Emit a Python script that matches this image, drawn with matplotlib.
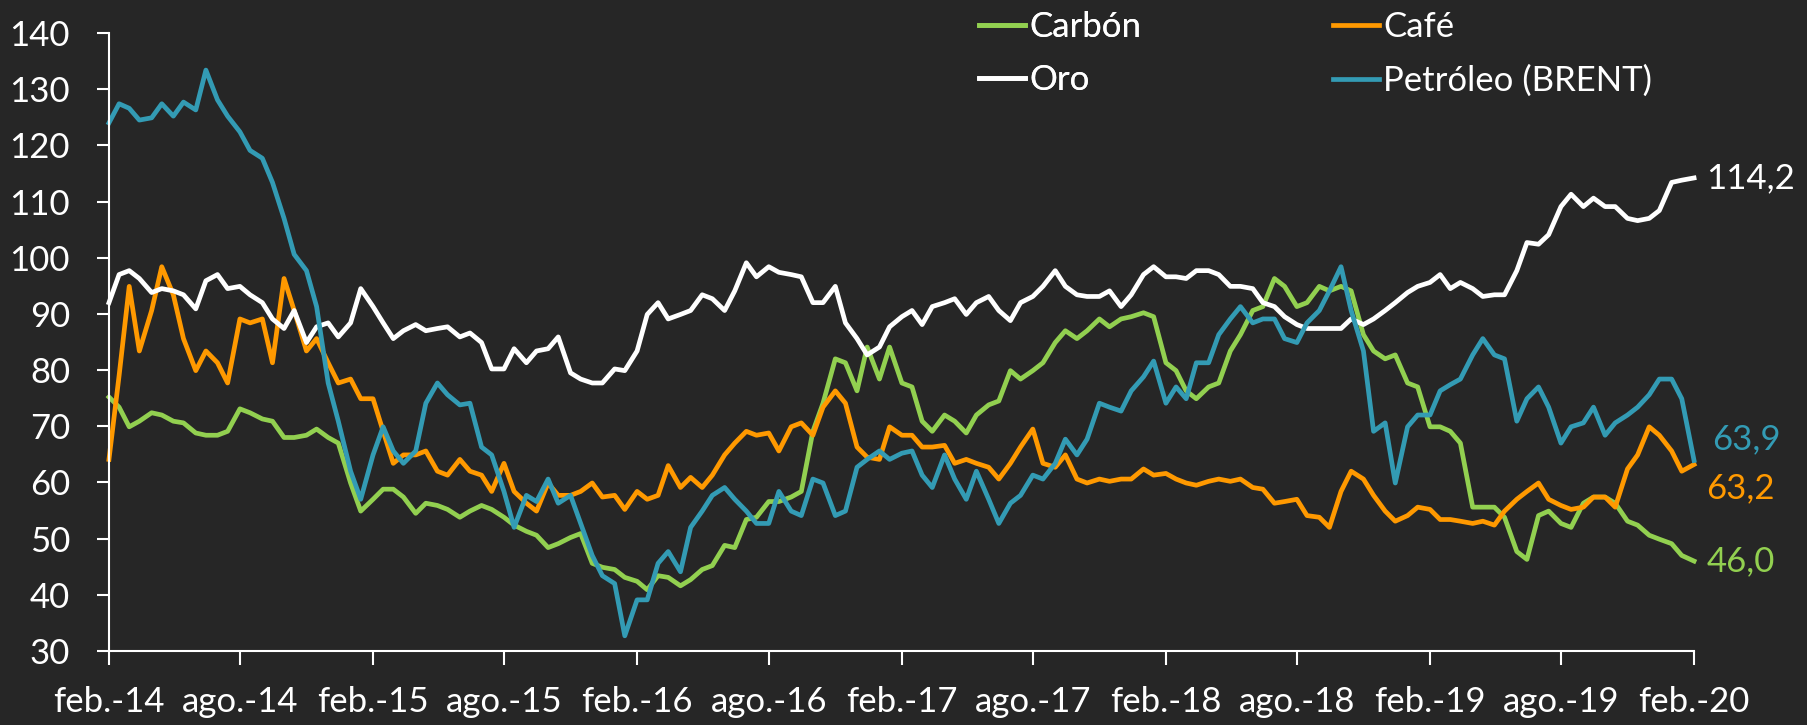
import matplotlib
matplotlib.use("Agg")
import matplotlib.pyplot as plt
import pandas as pd

# Semi-monthly index, feb-2014 .. feb-2020 (base 100 series)
fechas = pd.date_range("2014-02-01", "2020-02-01", freq="SMS")

carbon = [75.2, 73.4, 69.9, 70.9, 72.4, 72.0, 70.9, 70.6, 68.8, 68.4, 68.4, 69.1, 73.1, 72.4, 71.3, 70.9, 68.0, 68.0, 68.4,
          69.5, 68.0, 67.0, 59.9, 54.9, 57.0, 58.8, 58.8, 57.4, 54.5, 56.3, 55.9, 55.2, 53.8, 54.9, 55.9, 55.2, 53.8,
          52.4, 51.3, 50.6, 48.4, 49.1, 50.2, 50.9, 45.6, 44.9, 44.5, 43.1, 42.4, 40.9, 43.4, 43.1, 41.6, 42.7, 44.5,
          45.2, 48.8, 48.4, 53.4, 53.8, 56.6, 56.6, 57.4, 58.4, 69.1, 74.1, 82.0, 81.3, 76.3, 84.1, 78.4, 84.1, 77.7,
          77.0, 70.9, 69.1, 72.0, 70.9, 68.8, 72.0, 73.8, 74.5, 79.9, 78.4, 79.9, 81.3, 84.9, 87.0, 85.6, 87.0, 89.1,
          87.7, 89.1, 89.5, 90.2, 89.5, 81.3,
          79.9, 76.3, 74.9, 77.0, 77.7, 83.4, 86.3, 90.6, 91.3, 96.3, 94.9, 91.3, 92.0, 94.9, 94.1, 94.9, 94.1, 86.3,
          83.4, 82.0, 82.7, 77.7, 77.0, 69.9,
          69.9, 69.1, 67.0, 55.6, 55.6, 55.6, 53.8, 47.7, 46.3, 54.1, 54.9, 52.7, 52.0, 56.3, 57.4, 57.4, 56.3, 53.1,
          52.4, 50.6, 49.9, 49.1, 47.0, 46.0]

cafe = [64.1, 79.0, 94.9, 83.4, 90.6, 98.4, 93.4, 85.6, 79.9, 83.4, 81.3, 77.7, 89.1, 88.4, 89.1, 81.3, 96.3, 90.6, 83.4,
        85.6, 81.3, 77.7, 78.4, 74.9, 74.9, 69.1, 63.4, 64.9, 64.9, 65.6, 62.0, 61.3, 64.1, 62.0, 61.3, 58.4, 63.4,
        58.4, 56.3, 54.9, 59.9, 57.7, 57.7, 58.4, 59.9, 57.4, 57.7, 55.2, 58.4, 57.0, 57.7, 63.0, 59.1, 60.9, 59.1,
        61.3, 64.9, 67.0, 69.1, 68.4, 68.8, 65.6, 69.9, 70.6, 68.4, 73.4, 76.3, 74.1, 66.3, 64.5, 64.1, 69.9, 68.4,
        68.4, 66.3, 66.3, 66.6, 63.4, 64.1, 63.4, 62.7, 60.6, 63.4, 66.3, 69.5, 63.4, 62.7, 64.9, 60.6, 59.9, 60.6,
        60.2, 60.6, 60.6, 62.4, 61.3, 61.6,
        60.6, 59.9, 59.5, 60.2, 60.6, 60.2, 60.6, 59.1, 58.8, 56.3, 56.6, 57.0, 54.1, 53.8, 52.0, 58.4, 62.0, 60.6,
        57.7, 54.9, 53.1, 54.1, 55.6, 55.2,
        53.4, 53.4, 53.1, 52.7, 53.1, 52.4, 54.9, 57.0, 58.4, 59.9, 57.0, 55.9, 55.2, 55.6, 57.4, 57.4, 55.6, 62.4,
        64.9, 69.9, 68.4, 65.6, 62.0, 63.2]

oro = [92.0, 97.0, 97.7, 96.3, 93.8, 94.5, 94.1, 93.4, 90.9, 95.9, 97.0, 94.5, 94.9, 93.4, 92.0, 89.1, 87.4, 90.6, 84.9,
       87.7, 88.4, 85.9, 88.4, 94.5, 91.3, 88.4, 85.6, 87.0, 88.1, 87.0, 87.4, 87.7, 85.9, 86.6, 84.9, 80.2, 80.2,
       83.8, 81.3, 83.4, 83.8, 85.9, 79.5, 78.4, 77.7, 77.7, 80.2, 79.9, 83.4, 89.9, 92.0, 89.1, 89.9, 90.6, 93.4,
       92.7, 90.6, 94.1, 99.1, 96.6, 98.4, 97.4, 97.0, 96.6, 92.0, 92.0, 94.9, 88.4, 85.6, 82.7, 84.1, 87.7, 89.5,
       90.6, 88.1, 91.3, 92.0, 92.7, 89.9, 92.0, 93.1, 90.6, 88.8, 92.0, 93.1, 94.9, 97.7, 94.9, 93.4, 93.1, 93.1,
       94.1, 91.3, 93.4, 97.0, 98.4, 96.6,
       96.6, 96.3, 97.7, 97.7, 97.0, 94.9, 94.9, 94.5, 92.0, 91.3, 89.5, 88.1, 87.4, 87.4, 87.4, 87.4, 89.1, 88.1,
       89.1, 90.6, 92.0, 93.8, 94.9, 95.6,
       97.0, 94.5, 95.6, 94.5, 93.1, 93.4, 93.4, 97.7, 102.7, 102.4, 104.1, 109.1, 111.3, 109.1, 110.6, 109.1, 109.1,
       107.0, 106.6, 107.0, 108.4, 113.4, 113.8, 114.2]

brent = [124.0, 127.4, 126.6, 124.5, 124.9, 127.4, 125.2, 127.7, 126.3, 133.4, 128.1, 125.2, 122.4, 119.1, 117.7, 113.4,
         107.0, 100.6, 97.7,
         91.3, 77.7, 70.9, 62.0, 57.0, 64.9, 69.9, 65.6, 63.4, 65.6, 74.1, 77.7, 75.6, 73.8, 74.1, 66.3, 64.9, 58.4,
         52.0, 57.7, 56.6, 60.6, 56.3, 57.7, 52.7, 47.0, 43.4, 42.0, 32.7, 39.1, 39.1, 45.6, 47.7, 44.1, 52.0, 54.9,
         57.7, 59.1, 57.0, 54.9, 52.7, 52.7, 58.4, 54.9, 54.1, 60.6, 59.9, 54.1, 54.9, 62.7, 64.1, 65.6, 64.1, 65.2,
         65.6, 61.3, 59.1, 64.9, 60.6, 57.0, 62.0, 57.0, 52.7, 56.3, 57.7, 61.3, 60.6, 63.4, 67.7, 64.9, 67.7, 74.1,
         73.4, 72.7, 76.3, 78.8, 81.6, 74.1,
         77.0, 74.9, 81.3, 81.3, 86.3, 89.1, 91.3, 88.4, 89.1, 89.1, 85.6, 84.9, 88.4, 90.6, 94.1, 98.4, 90.6, 83.4,
         69.1, 70.6, 59.9, 69.9, 72.0, 72.0,
         76.3, 77.4, 78.4, 82.7, 85.6, 82.7, 82.0, 70.9, 74.9, 77.0, 73.4, 67.0, 69.9, 70.6, 73.4, 68.4, 70.6, 72.0,
         73.4, 75.6, 78.4, 78.4, 74.9, 63.9]

series = ["Carbón", "Café", "Oro", "Petróleo (BRENT)"]
colores = ["#92D050", "#FF9900", "#FFFFFF", "#339BB4"]

meses = {2: "feb.", 8: "ago."}
ticks = pd.date_range("2014-02-01", "2020-02-01", freq="6MS")
tick_labels = [f"{meses[d.month]}-{d.strftime('%y')}" for d in ticks]

bg = "#262626"
plt.rcParams["font.family"] = ["Lato", "DejaVu Sans"]

fig = plt.figure(figsize=(18.07, 7.25), dpi=100, facecolor=bg)
ax = fig.add_axes([0.0603, 0.1021, 0.8772, 0.8524], facecolor=bg)

lineas = []
for nombre, vals, c in zip(series, [carbon, cafe, oro, brent], colores):
    ln, = ax.plot(fechas, vals, color=c, lw=3.4, label=nombre, clip_on=False,
                  solid_joinstyle="round")
    lineas.append(ln)

ax.set_xlim(fechas[0], fechas[-1])
ax.set_ylim(30, 140)
ax.set_yticks(range(30, 141, 10))
ax.set_xticks(ticks)
ax.set_xticklabels(tick_labels)

for s in ["top", "right"]:
    ax.spines[s].set_visible(False)
for s in ["left", "bottom"]:
    ax.spines[s].set_color("white")
    ax.spines[s].set_linewidth(1.5)

ax.tick_params(axis="y", colors="white", labelsize=25, length=9, width=1.5, pad=19)
ax.tick_params(axis="x", colors="white", labelsize=25, length=10, width=1.5, pad=15)

# two legend blocks across the top
leg_kw = dict(loc="upper left", frameon=False, fontsize=25, labelcolor="white",
              handlelength=1.33, handletextpad=0.12, borderpad=0, borderaxespad=0,
              labelspacing=0.62)
leg1 = fig.legend([lineas[0], lineas[2]], [series[0], series[2]],
                  bbox_to_anchor=(979 / 1807, 0.985), **leg_kw)
leg2 = fig.legend([lineas[1], lineas[3]], [series[1], series[3]],
                  bbox_to_anchor=(1333 / 1807, 0.985), **leg_kw)
fig.add_artist(leg1)

# last value labels, nudged apart where they collide
offsets = {"Carbón": (9, 0), "Café": (9, -17), "Oro": (9, 0), "Petróleo (BRENT)": (13, 15)}
for nombre, vals, c in zip(series, [carbon, cafe, oro, brent], colores):
    dx, dy = offsets[nombre]
    ax.annotate(f"{vals[-1]:.1f}".replace(".", ","), xy=(fechas[-1], vals[-1]),
                xytext=(dx, dy), textcoords="offset points", va="center", ha="left",
                color=c, fontsize=25, annotation_clip=False)

fig.savefig("out.png", dpi=100, facecolor=bg)
